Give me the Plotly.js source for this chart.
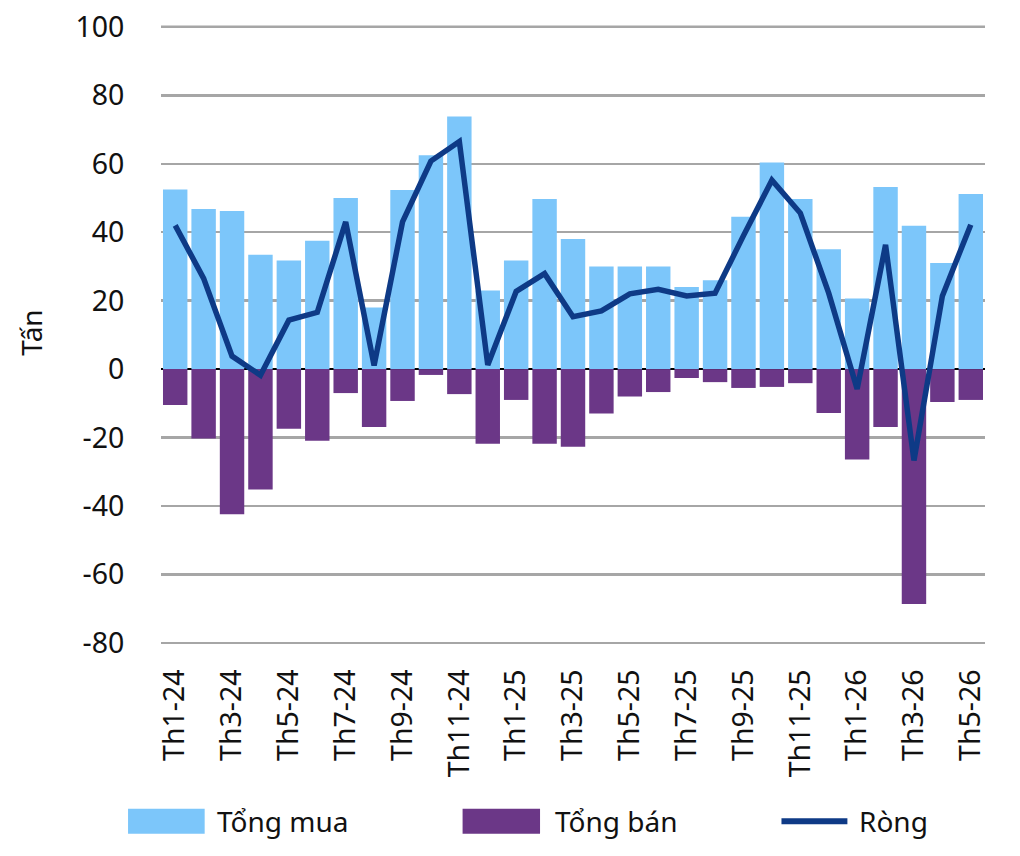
<!DOCTYPE html>
<html>
<head>
<meta charset="utf-8">
<script src="https://cdn.plot.ly/plotly-3.0.1.min.js"></script>
<style>
  html, body { margin: 0; padding: 0; background: #fff; }
  #chart { width: 1020px; height: 856px; }
</style>
</head>
<body>
<div id="chart"></div>
<script>
// months Th1-24 .. Th5-26
const months = [
    "Th1-24", "Th2-24", "Th3-24", "Th4-24", "Th5-24", "Th6-24", "Th7-24", "Th8-24", "Th9-24", "Th10-24", "Th11-24", "Th12-24",
    "Th1-25", "Th2-25", "Th3-25", "Th4-25", "Th5-25", "Th6-25", "Th7-25", "Th8-25", "Th9-25", "Th10-25", "Th11-25", "Th12-25",
    "Th1-26", "Th2-26", "Th3-26", "Th4-26", "Th5-26"
];

// Tổng mua (tấn)
const buyTotal = [
    52.5, 46.8, 46.2, 33.4, 31.7, 37.5, 50.0, 18.0, 52.3, 62.5, 73.8, 23.0,
    31.7, 49.7, 38.0, 30.0, 30.0, 30.0, 24.0, 26.0, 44.5, 60.4, 49.7, 35.0,
    20.6, 53.2, 41.9, 31.0, 51.2
];

// Tổng bán (tấn, âm)
const sellTotal = [
    -10.5, -20.3, -42.4, -35.2, -17.4, -20.9, -7.0, -16.9, -9.3, -1.7, -7.3, -21.8,
    -9.0, -21.8, -22.7, -13.0, -8.0, -6.7, -2.6, -3.8, -5.5, -5.2, -4.1, -12.8,
    -26.4, -16.9, -68.6, -9.6, -9.0
];

// Ròng
const netTotal = [
    42.0, 26.5, 3.8, -1.8, 14.3, 16.6, 43.0, 1.1, 43.0, 60.8, 66.5, 1.2,
    22.7, 27.9, 15.3, 17.0, 22.0, 23.3, 21.4, 22.2, 39.0, 55.2, 45.6, 22.2,
    -5.8, 36.3, -26.7, 21.4, 42.2
];

const yTicks = [-80, -60, -40, -20, 0, 20, 40, 60, 80, 100];
const tickMonths = months.filter((m, i) => i % 2 === 0);

const blue = "#7CC6FA";
const purple = "#6B3787";
const navy = "#0E3A86";
const gridGrey = "#A6A6A6";
const font = "Noto Sans, Open Sans, sans-serif";

const traces = [
    { x: months, y: buyTotal, type: "bar", name: "Tổng mua",
      marker: { color: blue }, showlegend: false, hoverinfo: "skip" },
    { x: months, y: sellTotal, type: "bar", name: "Tổng bán",
      marker: { color: purple }, showlegend: false, hoverinfo: "skip" },
    { x: months, y: netTotal, type: "scatter", mode: "lines", name: "Ròng",
      line: { color: navy, width: 5.5 }, showlegend: false, hoverinfo: "skip" }
];

// plot area is 625px tall (t=20), legend row sits around pixel 820
const legendY = -0.282;
const shapes = [
    // top gridline; nothing reaches it so it can sit above the traces
    { type: "line", xref: "paper", yref: "y", x0: 0, x1: 1, y0: 100, y1: 100,
      line: { color: gridGrey, width: 2.5 } },
    { type: "rect", xref: "paper", yref: "paper", x0: -0.040, x1: 0.053, y0: -0.302, y1: -0.262,
      fillcolor: blue, line: { width: 0 } },
    { type: "rect", xref: "paper", yref: "paper", x0: 0.366, x1: 0.460, y0: -0.302, y1: -0.262,
      fillcolor: purple, line: { width: 0 } },
    { type: "line", xref: "paper", yref: "paper", x0: 0.753, x1: 0.833, y0: legendY, y1: legendY,
      line: { color: navy, width: 6 } }
];
const annotations = [
    { text: "Tổng mua", x: 0.066, xanchor: "left" },
    { text: "Tổng bán", x: 0.476, xanchor: "left" },
    { text: "Ròng", x: 0.845, xanchor: "left" }
].map(a => Object.assign({
    xref: "paper", yref: "paper", y: legendY, yanchor: "middle", showarrow: false,
    font: { family: font, size: 28, color: "#111" }
}, a));

const layout = {
    width: 1020,
    height: 856,
    margin: { l: 161, r: 35, t: 20, b: 211 },
    paper_bgcolor: "#fff",
    plot_bgcolor: "#fff",
    barmode: "relative",
    bargap: 0.14,
    font: { family: font, size: 28, color: "#111" },
    xaxis: {
        type: "category",
        range: [-0.5, months.length - 0.5],
        tickvals: tickMonths,
        ticktext: tickMonths,
        tickangle: -90,
        // invisible ticks used as spacing between axis and labels
        ticks: "outside",
        ticklen: 12,
        tickcolor: "rgba(0,0,0,0)",
        showgrid: false,
        showline: false,
        zeroline: false,
        tickfont: { family: font, size: 28.5, color: "#111" }
    },
    yaxis: {
        range: [-80.6, 102],
        tickvals: yTicks,
        ticktext: yTicks.map(String),
        showgrid: true,
        gridcolor: gridGrey,
        gridwidth: 2.5,
        zeroline: true,
        zerolinecolor: "#000",
        zerolinewidth: 2,
        showline: false,
        ticks: "outside",
        ticklen: 30,
        tickcolor: "rgba(0,0,0,0)",
        tickfont: { family: font, size: 28.5, color: "#111" },
        title: { text: "Tấn", font: { family: font, size: 28, color: "#111" }, standoff: 24 }
    },
    shapes: shapes,
    annotations: annotations
};

Plotly.newPlot("chart", traces, layout, { staticPlot: true });
</script>
</body>
</html>
